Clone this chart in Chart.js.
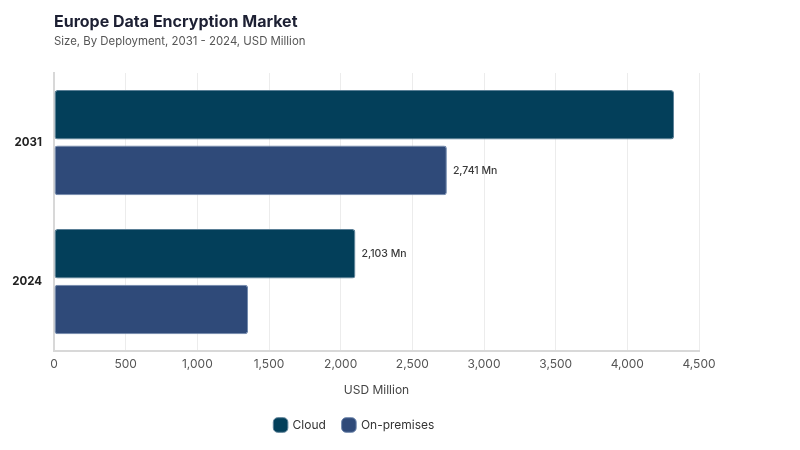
<!DOCTYPE html>
<html><head><meta charset="utf-8">
<script src="https://cdn.jsdelivr.net/npm/chart.js@4.4.0/dist/chart.umd.min.js"></script>
<style>
html,body{margin:0;padding:0;background:#fff;}
#wrap{position:relative;width:800px;height:450px;font-family:Inter, "Open Sans", sans-serif;}
#title{position:absolute;left:54px;top:11px;font-size:16px;font-weight:700;color:#1d2033;}
#sub{position:absolute;left:54px;top:34px;font-size:11.4px;color:#555;}
canvas{position:absolute;left:0;top:0;}
</style></head>
<body>
<div id="wrap">
<canvas id="c" width="800" height="450"></canvas>
<div id="title">Europe Data Encryption Market</div>
<div id="sub">Size, By Deployment, 2031 - 2024, USD Million</div>
</div>
<script>
const categories = ["2031", "2024"];
const cloudValues = [4326, 2103];
const onPremValues = [2741, 1354];
const cloudLabels = [null, "2,103 Mn"];
const onPremLabels = ["2,741 Mn", null];
const xTicks = [0, 500, 1000, 1500, 2000, 2500, 3000, 3500, 4000, 4500];

const labelPlugin = {
  id: 'barLabels',
  afterDatasetsDraw(chart) {
    const ctx = chart.ctx;
    ctx.save();
    ctx.font = '500 10.5px Inter, sans-serif';
    ctx.fillStyle = '#3a3a3a';
    ctx.textBaseline = 'middle';
    ctx.textAlign = 'left';
    chart.data.datasets.forEach((ds, i) => {
      const meta = chart.getDatasetMeta(i);
      meta.data.forEach((bar, j) => {
        const t = ds.valueLabels[j];
        if (t) ctx.fillText(t, bar.x + 6, bar.y);
      });
    });
    ctx.restore();
  }
};

new Chart(document.getElementById('c'), {
  type: 'bar',
  data: {
    labels: categories,
    datasets: [
      { label: 'Cloud', data: cloudValues, valueLabels: cloudLabels,
        backgroundColor: '#033f5a', borderColor: '#5a7f96', borderWidth: 1, borderRadius: 3, borderSkipped: false,
        categoryPercentage: 0.8, barPercentage: 0.89 },
      { label: 'On-premises', data: onPremValues, valueLabels: onPremLabels,
        backgroundColor: '#2f4a79', borderColor: '#7088ad', borderWidth: 1, borderRadius: 3, borderSkipped: false,
        categoryPercentage: 0.8, barPercentage: 0.89 }
    ]
  },
  options: {
    indexAxis: 'y',
    responsive: false,
    animation: false,
    devicePixelRatio: 1,
    layout: { padding: { top: 73, right: 101, bottom: 9, left: 10 } },
    scales: {
      x: {
        min: 0, max: 4500,
        afterBuildTicks(scale) { scale.ticks = xTicks.map(v => ({ value: v })); },
        ticks: { color: '#555', font: { family: 'Inter', size: 12 }, padding: 6,
          callback: v => v.toLocaleString('en-US') },
        grid: { color: '#ececec', drawTicks: false },
        border: { color: '#d8d8d8', width: 2 },
        title: { display: true, text: 'USD Million', color: '#444', font: { family: 'Inter', size: 12 }, padding: { top: 6 } }
      },
      y: {
        afterFit(scale) { scale.width = 44; },
        ticks: { color: '#222', font: { family: 'Inter', size: 11.5, weight: '700' }, padding: 4 },
        grid: { display: false },
        border: { color: '#d8d8d8', width: 2 }
      }
    },
    plugins: {
      legend: {
        position: 'bottom',
        labels: { usePointStyle: true, pointStyle: 'rectRounded', boxWidth: 15, boxHeight: 15,
          color: '#333', font: { family: 'Inter', size: 12 }, padding: 17 }
      },
      tooltip: { enabled: false }
    }
  },
  plugins: [labelPlugin]
});
</script>
</body></html>
